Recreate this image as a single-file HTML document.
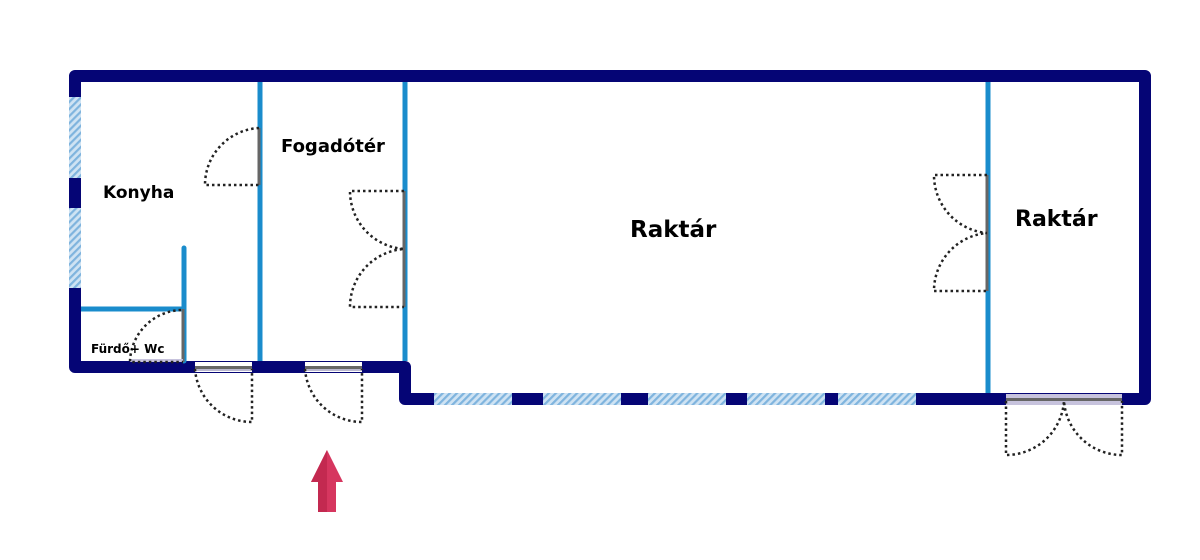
<!DOCTYPE html>
<html><head><meta charset="utf-8"><style>html,body{margin:0;padding:0;background:#fff}svg{display:block}</style></head>
<body>
<svg width="1200" height="560" viewBox="0 0 1200 560" xmlns="http://www.w3.org/2000/svg">
<defs>
<pattern id="h" width="5" height="5" patternUnits="userSpaceOnUse" patternTransform="rotate(45)">
<rect width="5" height="5" fill="#cfe3f3"/><rect width="2.2" height="5" fill="#7fb4de"/>
</pattern>
</defs>
<path d="M75,367 V76 H1145 V399 H405 V367 Z" fill="none" stroke="#050575" stroke-width="12" stroke-linejoin="round"/>
<rect x="69" y="97" width="12" height="81" fill="url(#h)"/>
<rect x="69" y="208" width="12" height="80" fill="url(#h)"/>
<rect x="434" y="393" width="78" height="12" fill="url(#h)"/>
<rect x="543" y="393" width="78" height="12" fill="url(#h)"/>
<rect x="648" y="393" width="78" height="12" fill="url(#h)"/>
<rect x="747" y="393" width="78" height="12" fill="url(#h)"/>
<rect x="838" y="393" width="78" height="12" fill="url(#h)"/>
<rect x="195" y="362" width="57" height="10" fill="#fff"/>
<rect x="195" y="367" width="57" height="4" fill="#b9b7cf"/>
<rect x="195" y="366" width="57" height="3" fill="#666"/>
<rect x="305" y="362" width="57" height="10" fill="#fff"/>
<rect x="305" y="367" width="57" height="4" fill="#b9b7cf"/>
<rect x="305" y="366" width="57" height="3" fill="#666"/>
<rect x="1006" y="394" width="116" height="11" fill="#c7c3dd"/>
<rect x="1006" y="398" width="116" height="3" fill="#666"/>
<g stroke="#1a8ccc" stroke-width="5">
<line x1="260" y1="82" x2="260" y2="361"/>
<line x1="405" y1="82" x2="405" y2="361"/>
<line x1="988" y1="82" x2="988" y2="393"/>
<line x1="184" y1="248" x2="184" y2="361" stroke-linecap="round"/>
<line x1="81" y1="309" x2="184" y2="309"/>
</g>
<g stroke="#666" stroke-width="3">
<line x1="259" y1="128" x2="259" y2="185"/>
<line x1="404" y1="191" x2="404" y2="307"/>
<line x1="987" y1="175" x2="987" y2="291"/>
<line x1="183" y1="309" x2="183" y2="362"/>
</g>
<rect x="130" y="359" width="53" height="3" fill="#c7c3dd"/>
<g fill="none" stroke="#222" stroke-width="2.5" stroke-dasharray="2.5,3">
<path d="M259,128 A57,57 0 0 0 205,185 H259"/>
<path d="M404,191 H350 A58,58 0 0 0 404,249 A58,58 0 0 0 350,307 H404"/>
<path d="M987,175 H934 A58,58 0 0 0 987,233 A58,58 0 0 0 934,291 H987"/>
<path d="M181,310 A53,53 0 0 0 130,362 H183"/>
<path d="M195,369 A57,57 0 0 0 252,422 V369"/>
<path d="M305,369 A57,57 0 0 0 362,422 V369"/>
<path d="M1006,401 V455 A58,58 0 0 0 1064,401 A58,58 0 0 0 1122,455 V401"/>
</g>
<polygon points="327,450 343,482 336,482 336,512 318,512 318,482 311,482" fill="#d6365f"/>
<polygon points="327,450 327,512 318,512 318,482 311,482" fill="#c32950"/>
<g font-family="'DejaVu Sans','Liberation Sans',sans-serif" font-weight="bold" fill="#000">
<text x="103" y="198" font-size="17">Konyha</text>
<text x="281" y="152" font-size="18">Fogadótér</text>
<text x="630" y="237" font-size="23">Raktár</text>
<text x="1015" y="226" font-size="22">Raktár</text>
<text x="91" y="353" font-size="12">Fürdő+ Wc</text>
</g>
</svg>
</body></html>
